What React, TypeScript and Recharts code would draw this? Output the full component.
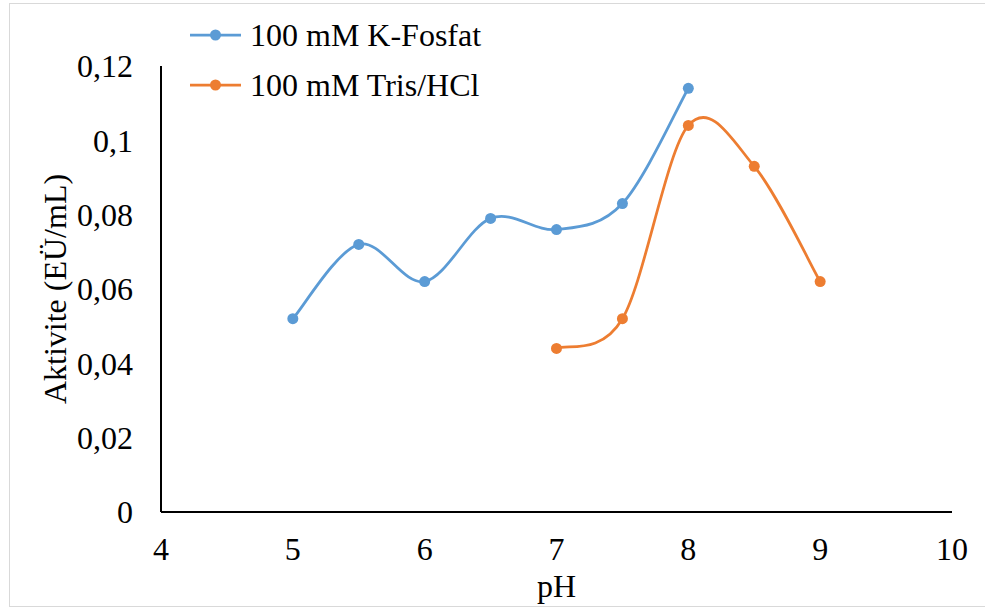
import React from 'react';
import { LineChart, Line, XAxis, YAxis, Legend } from 'recharts';

const phosphateX = [5, 5.5, 6, 6.5, 7, 7.5, 8];
const phosphateY = [0.052, 0.072, 0.062, 0.079, 0.076, 0.083, 0.114];
const trisX = [7, 7.5, 8, 8.5, 9];
const trisY = [0.044, 0.052, 0.104, 0.093, 0.062];
const xTicks = [4, 5, 6, 7, 8, 9, 10];
const yTicks = [0, 0.02, 0.04, 0.06, 0.08, 0.1, 0.12];
const seriesNames = ['100 mM K-Fosfat', '100 mM Tris/HCl'];
const colors = ['#5B9BD5', '#ED7D31'];

const phosphateData = phosphateX.map((x, i) => ({ x, y: phosphateY[i] }));
const trisData = trisX.map((x, i) => ({ x, y: trisY[i] }));

// Excel-like smoothing (Catmull-Rom, 1/6 control handles) as a d3 curve factory
function excelSmooth(context: any) {
  let pts: [number, number][] = [];
  let lineFlag: number = NaN;
  return {
    areaStart() { lineFlag = 0; },
    areaEnd() { lineFlag = NaN; },
    lineStart() { pts = []; },
    lineEnd() {
      const n = pts.length;
      if (n === 0) return;
      context.moveTo(pts[0][0], pts[0][1]);
      for (let i = 0; i < n - 1; i++) {
        const p0 = pts[i - 1] || pts[i];
        const p1 = pts[i];
        const p2 = pts[i + 1];
        const p3 = pts[i + 2] || pts[i + 1];
        const c1x = p1[0] + (p2[0] - p0[0]) / 6;
        const c1y = p1[1] + (p2[1] - p0[1]) / 6;
        const c2x = p2[0] - (p3[0] - p1[0]) / 6;
        const c2y = p2[1] - (p3[1] - p1[1]) / 6;
        context.bezierCurveTo(c1x, c1y, c2x, c2y, p2[0], p2[1]);
      }
      if (lineFlag === 0) context.closePath();
    },
    point(x: number, y: number) { pts.push([+x, +y]); },
  };
}

const fmt = (v: number) => String(v).replace('.', ',');

const font = '"Liberation Serif", "Times New Roman", serif';
const FS = 32;

const renderLegend = () => (
  <svg width={340} height={110} style={{ display: 'block', overflow: 'visible' }}>
    {seriesNames.map((name, i) => (
      <g key={name} transform={`translate(0, ${30 + i * 50})`}>
        <line x1={0} x2={51} y1={0} y2={0} stroke={colors[i]} strokeWidth={2.75} />
        <circle cx={25.5} cy={0} r={5.5} fill={colors[i]} />
        <text x={60} y={0} dy="0.35em" fontSize={FS} fontFamily={font} fill="#000">{name}</text>
      </g>
    ))}
  </svg>
);

export default function App() {
  return (
    <div style={{ position: 'absolute', left: 0, top: 0, width: 985, height: 607, background: '#fff', overflow: 'hidden' }}>
      <div style={{ position: 'absolute', left: 9, top: 3, width: 1000, height: 602, border: '1.5px solid #d9d9d9' }} />
      <div style={{ position: 'absolute', left: 0, top: 0 }}>
        <LineChart width={985} height={607} margin={{ top: 66, right: 33, left: 0, bottom: 0 }}>
          <XAxis
            type="number"
            dataKey="x"
            domain={[4, 10]}
            ticks={xTicks}
            allowDuplicatedCategory={false}
            height={95}
            axisLine={{ stroke: '#000', strokeWidth: 2 }}
            tickLine={false}
            tickSize={0}
            tickMargin={25}
            tick={{ fill: '#000', fontSize: FS, fontFamily: font }}
            label={{ value: 'pH', position: 'insideBottom', offset: 10, fill: '#000', fontSize: FS, fontFamily: font }}
          />
          <YAxis
            type="number"
            dataKey="y"
            domain={[0, 0.12]}
            ticks={yTicks}
            width={161}
            axisLine={{ stroke: '#000', strokeWidth: 2 }}
            tickLine={false}
            tickSize={0}
            tickMargin={28}
            tickFormatter={fmt}
            tick={{ fill: '#000', fontSize: FS, fontFamily: font }}
            label={{ value: 'Aktivite (EÜ/mL)', angle: -90, position: 'insideLeft', offset: 55, fill: '#000', fontSize: FS, fontFamily: font, style: { textAnchor: 'middle' } }}
          />
          <Legend
            layout="vertical"
            align="center"
            verticalAlign="middle"
            content={renderLegend}
            wrapperStyle={{ left: 190, top: 5, width: 340, height: 110 }}
          />
          <Line
            data={phosphateData}
            dataKey="y"
            name={seriesNames[0]}
            type={excelSmooth as any}
            stroke={colors[0]}
            strokeWidth={2.75}
            dot={{ r: 5.5, fill: colors[0], stroke: 'none' }}
            isAnimationActive={false}
          />
          <Line
            data={trisData}
            dataKey="y"
            name={seriesNames[1]}
            type={excelSmooth as any}
            stroke={colors[1]}
            strokeWidth={2.75}
            dot={{ r: 5.5, fill: colors[1], stroke: 'none' }}
            isAnimationActive={false}
          />
        </LineChart>
      </div>
    </div>
  );
}
